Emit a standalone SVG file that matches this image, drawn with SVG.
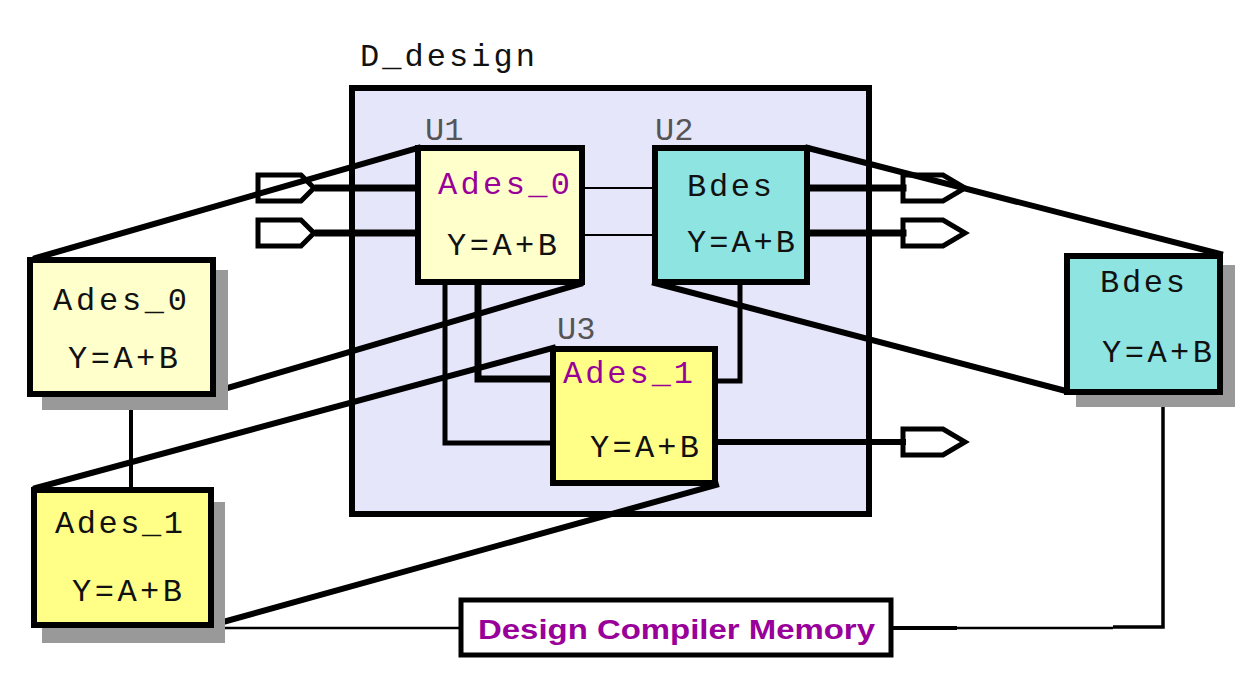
<svg xmlns="http://www.w3.org/2000/svg" width="1257" height="673" viewBox="0 0 1257 673">
<style>
.mono{font-family:"Liberation Mono","DejaVu Sans Mono",monospace;font-size:32px;fill:#111}
.purple{fill:#990099}
.lbl{font-family:"Liberation Mono","DejaVu Sans Mono",monospace;font-size:32px;fill:#555}
.box{stroke:#000;stroke-width:6}
.shadow{fill:#999}
.pale{fill:#ffffcc}
.yel{fill:#ffff88}
.cyan{fill:#8ee4e1}
.port{fill:#fff;stroke:#000;stroke-width:5;stroke-linejoin:miter}
.w{stroke:#000;fill:none;stroke-linecap:square}
.mem{font-family:"Liberation Sans",Arial,sans-serif;font-weight:bold;font-size:28px;fill:#990099}
</style>
<defs>
<polygon id="inport" points="0,-13 43,-13 56,0 43,13 0,13"/>
<polygon id="outport" points="0,-13 40,-13 62,0 40,13 0,13"/>
</defs>
<rect width="1257" height="673" fill="#fff"/>

<g id="D_design">
<rect x="352" y="88" width="517" height="426" fill="#e6e6fa" stroke="#000" stroke-width="6"/>
<text class="mono" x="360" y="66" textLength="175" lengthAdjust="spacing" fill="#222">D_design</text>
</g>

<g id="ports">
<g id="in1"><use href="#inport" class="port" x="258" y="188"/></g>
<g id="in2"><use href="#inport" class="port" x="258" y="233"/></g>
<g id="out1"><use href="#outport" class="port" x="903" y="188"/></g>
<g id="out2"><use href="#outport" class="port" x="903" y="233"/></g>
<g id="out3"><use href="#outport" class="port" x="903" y="442"/></g>
</g>

<g id="connectors">
<line class="w" x1="318" y1="188" x2="418" y2="188" stroke-width="7"/>
<line class="w" x1="318" y1="233" x2="418" y2="233" stroke-width="7"/>
<line class="w" x1="583" y1="188" x2="655" y2="188" stroke-width="2"/>
<line class="w" x1="583" y1="235" x2="655" y2="235" stroke-width="2"/>
<line class="w" x1="808" y1="188" x2="903" y2="188" stroke-width="7"/>
<line class="w" x1="808" y1="233" x2="903" y2="233" stroke-width="7"/>
<line class="w" x1="716" y1="442" x2="903" y2="442" stroke-width="6"/>
<path class="w" d="M445,284 V443 H553" stroke-width="5"/>
<path class="w" d="M478,284 V379 H553" stroke-width="7"/>
<path class="w" d="M740,284 V381 H716" stroke-width="5"/>
<line class="w" x1="36" y1="258" x2="418" y2="148" stroke-width="6"/>
<line class="w" x1="197" y1="397" x2="580" y2="284" stroke-width="6"/>
<line class="w" x1="36" y1="488" x2="553" y2="348" stroke-width="6"/>
<line class="w" x1="205" y1="627" x2="716" y2="485" stroke-width="6"/>
<line class="w" x1="808" y1="148" x2="1220" y2="254" stroke-width="6"/>
<line class="w" x1="655" y1="283" x2="1066" y2="391" stroke-width="6"/>
<line class="w" x1="131" y1="397" x2="131" y2="488" stroke-width="4"/>
<line x1="213" y1="628" x2="461" y2="628" stroke="#000" stroke-width="2.5"/>
<line x1="891" y1="628" x2="957" y2="628" stroke="#000" stroke-width="4"/>
<line x1="957" y1="628" x2="1113" y2="628" stroke="#000" stroke-width="2.5"/>
<path d="M1113,627 H1163 V407" fill="none" stroke="#000" stroke-width="3.5"/>
</g>

<g id="U1">
<rect class="box pale" x="418" y="148" width="164" height="134"/>
<text class="lbl" x="425" y="140">U1</text>
<text class="mono purple" x="438" y="194" textLength="132" lengthAdjust="spacing">Ades_0</text>
<text class="mono" x="447" y="255" textLength="110" lengthAdjust="spacing">Y=A+B</text>
</g>

<g id="U2">
<rect class="box cyan" x="655" y="148" width="152" height="134"/>
<text class="lbl" x="655" y="140">U2</text>
<text class="mono" x="687" y="196" textLength="85" lengthAdjust="spacing">Bdes</text>
<text class="mono" x="687" y="252" textLength="108" lengthAdjust="spacing">Y=A+B</text>
</g>

<g id="U3">
<rect class="box yel" x="553" y="349" width="162" height="134"/>
<text class="lbl" x="557" y="339">U3</text>
<text class="mono purple" x="563" y="383" textLength="130" lengthAdjust="spacing">Ades_1</text>
<text class="mono" x="590" y="457" textLength="109" lengthAdjust="spacing">Y=A+B</text>
</g>

<g id="Ades_0_mem">
<rect class="shadow" x="42" y="270" width="186" height="140"/>
<rect class="box pale" x="30" y="260" width="183" height="134" stroke-width="7"/>
<text class="mono" x="53" y="310" textLength="134" lengthAdjust="spacing">Ades_0</text>
<text class="mono" x="68" y="368" textLength="110" lengthAdjust="spacing">Y=A+B</text>
</g>

<g id="Ades_1_mem">
<rect class="shadow" x="42" y="502" width="183" height="141"/>
<rect class="box yel" x="34" y="490" width="177" height="135" stroke-width="7"/>
<text class="mono" x="55" y="533" textLength="128" lengthAdjust="spacing">Ades_1</text>
<text class="mono" x="72" y="601" textLength="110" lengthAdjust="spacing">Y=A+B</text>
</g>

<g id="Bdes_mem">
<rect class="shadow" x="1076" y="265" width="159" height="142"/>
<rect class="box cyan" x="1067" y="256" width="153" height="136" stroke-width="7"/>
<text class="mono" x="1100" y="292" textLength="85" lengthAdjust="spacing">Bdes</text>
<text class="mono" x="1102" y="362" textLength="110" lengthAdjust="spacing">Y=A+B</text>
</g>

<g id="memory">
<rect x="461" y="600" width="430" height="55" fill="#fff" stroke="#000" stroke-width="5"/>
<text class="mem" x="478" y="639" textLength="397" lengthAdjust="spacingAndGlyphs">Design Compiler Memory</text>
</g>
</svg>
